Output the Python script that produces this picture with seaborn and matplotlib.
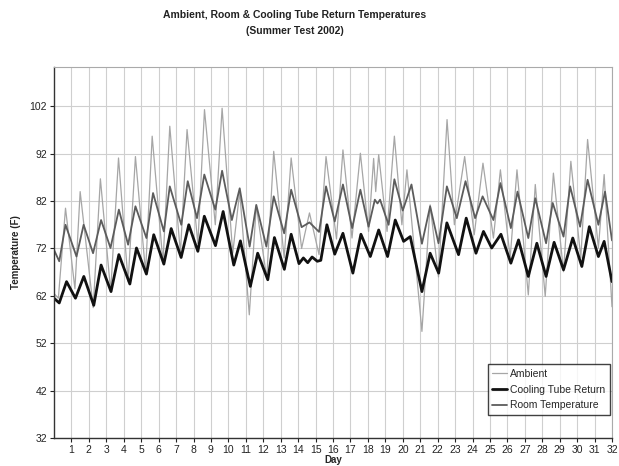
import matplotlib
matplotlib.use("Agg")
import matplotlib.pyplot as plt
import seaborn as sns
import pandas as pd

# ---- data (day, temperature F) ----
amb_day = [0.0, 0.25, 0.66, 1.2, 1.5, 2.25, 2.66, 3.25, 3.7, 4.25, 4.67, 5.25, 5.63, 6.25, 6.64,
           7.25, 7.63, 8.25, 8.63, 9.25, 9.64, 10.25, 10.65, 11.2, 11.6, 12.2, 12.6, 13.2, 13.6,
           14.2, 14.65, 15.2, 15.6, 16.2, 16.57, 17.09, 17.57, 18.04, 18.33, 18.45, 18.62, 19.1,
           19.52, 19.95, 20.24, 21.1, 21.57, 22.05, 22.54, 22.96, 23.55, 24.1, 24.6, 25.2, 25.6,
           26.16, 26.55, 27.2, 27.6, 28.17, 28.64, 29.22, 29.64, 30.21, 30.6, 31.22, 31.55, 32.0]
amb_temp = [62.5, 61.5, 80.5, 63.5, 84.0, 59.5, 86.7, 63.0, 91.1, 65.0, 91.4, 67.0, 95.7, 69.0, 97.8,
            71.0, 97.1, 73.0, 101.3, 77.0, 101.6, 71.0, 84.0, 58.0, 81.0, 65.7, 92.5, 70.0, 91.1,
            72.0, 79.5, 70.7, 91.4, 74.0, 92.8, 74.2, 92.1, 75.6, 91.0, 84.0, 91.8, 75.6,
            95.7, 77.0, 88.6, 54.5, 81.2, 66.0, 99.2, 77.0, 91.4, 74.9, 90.0, 74.2, 88.6,
            70.0, 88.6, 62.2, 85.5, 61.9, 87.9, 67.1, 90.4, 70.0, 95.0, 72.1, 87.6, 59.7]

cool_day = [0.0, 0.3, 0.72, 1.23, 1.71, 2.28, 2.7, 3.27, 3.72, 4.35, 4.73, 5.3, 5.72, 6.3, 6.72,
            7.29, 7.73, 8.25, 8.62, 9.26, 9.7, 10.31, 10.69, 11.26, 11.68, 12.26, 12.64, 13.21,
            13.6, 14.05, 14.3, 14.55, 14.8, 15.1, 15.3, 15.65, 16.1, 16.57, 17.14, 17.6, 18.14,
            18.62, 19.13, 19.57, 20.05, 20.43, 21.1, 21.57, 22.06, 22.53, 23.2, 23.64, 24.2, 24.63,
            25.1, 25.63, 26.2, 26.64, 27.2, 27.69, 28.22, 28.68, 29.22, 29.75, 30.27, 30.7, 31.22,
            31.55, 32.0]
cool_temp = [61.5, 60.5, 65.0, 61.5, 66.1, 60.0, 68.5, 62.9, 70.7, 64.5, 72.1, 66.6, 74.9, 68.7, 76.2,
             70.1, 77.0, 71.4, 78.8, 72.6, 79.8, 68.5, 73.6, 64.0, 71.0, 65.4, 74.3, 67.6,
             75.0, 68.8, 70.0, 69.0, 70.2, 69.3, 69.5, 77.0, 70.8, 75.2, 66.8, 75.0, 70.3,
             75.9, 70.3, 78.0, 73.5, 74.5, 62.9, 71.0, 66.8, 77.4, 70.7, 78.4, 71.0, 75.6,
             72.1, 75.0, 68.9, 73.8, 66.1, 73.1, 66.1, 73.3, 67.5, 74.2, 68.2, 76.6, 70.3,
             73.5, 65.0]

room_day = [0.0, 0.3, 0.66, 1.29, 1.7, 2.24, 2.7, 3.24, 3.72, 4.25, 4.67, 5.3, 5.68, 6.3, 6.64,
            7.3, 7.67, 8.2, 8.62, 9.25, 9.64, 10.2, 10.65, 11.22, 11.6, 12.18, 12.6, 13.2, 13.6,
            14.2, 14.65, 15.2, 15.6, 16.1, 16.57, 17.1, 17.57, 18.04, 18.4, 18.55, 18.7, 19.19,
            19.52, 20.0, 20.5, 21.1, 21.57, 22.05, 22.53, 23.1, 23.6, 24.15, 24.58, 25.2, 25.6,
            26.2, 26.58, 27.2, 27.6, 28.22, 28.6, 29.22, 29.6, 30.17, 30.6, 31.22, 31.6, 32.0]
room_temp = [71.7, 69.3, 77.0, 70.3, 77.0, 71.0, 78.0, 72.1, 80.2, 72.8, 80.9, 74.2, 83.7, 75.6, 85.1,
             77.0, 86.2, 78.4, 87.6, 80.2, 88.4, 78.0, 84.7, 72.4, 81.2, 72.4, 83.0, 75.2, 84.4,
             76.5, 77.5, 75.5, 85.1, 77.7, 85.5, 76.3, 84.4, 76.6, 82.3, 81.5, 82.3, 77.0,
             86.6, 80.0, 85.5, 73.0, 80.9, 73.1, 85.1, 78.4, 86.2, 78.4, 83.0, 78.0, 85.8,
             76.3, 84.0, 74.2, 82.6, 73.1, 81.6, 74.5, 85.1, 76.6, 86.5, 77.0, 84.0, 73.7]

y_ticks = [32, 42, 52, 62, 72, 82, 92, 102]
x_ticks = list(range(1, 33))

sns.set_style("whitegrid")
plt.rcParams["font.family"] = ["Liberation Sans", "DejaVu Sans"]

fig = plt.figure(figsize=(6.19, 4.66), dpi=100)
ax = fig.add_axes([54 / 619, 1 - 438 / 466, (612 - 54) / 619, (438 - 67) / 466])

sns.lineplot(x=amb_day, y=amb_temp, ax=ax, color="#a6a6a6", linewidth=0.9,
             label="Ambient", sort=False, solid_joinstyle="round")
sns.lineplot(x=cool_day, y=cool_temp, ax=ax, color="#111111", linewidth=2.0,
             label="Cooling Tube Return", sort=False, solid_joinstyle="round")
sns.lineplot(x=room_day, y=room_temp, ax=ax, color="#5c5c5c", linewidth=1.3,
             label="Room Temperature", sort=False, solid_joinstyle="round")

ax.set_xlim(0, 32)
ax.set_ylim(32, 110.3)
ax.set_yticks(y_ticks)
ax.set_xticks(x_ticks)
ax.set_xticklabels([str(t) for t in x_ticks], fontsize=7.5)
ax.set_yticklabels([str(t) for t in y_ticks], fontsize=7.5)
ax.grid(True, color="#cfcfcf", linewidth=0.8)
ax.tick_params(axis="both", length=3, width=0.8, colors="#222222", pad=2,
               direction="out", bottom=True, left=True)
for side in ["left", "bottom"]:
    ax.spines[side].set_color("#333333")
    ax.spines[side].set_linewidth(1.0)
for side in ["top", "right"]:
    ax.spines[side].set_color("#aaaaaa")
    ax.spines[side].set_linewidth(0.8)

ax.set_xlabel("Day", fontsize=7, fontweight="bold", labelpad=0)
ax.set_ylabel("Temperature (F)", fontsize=7, fontweight="bold", labelpad=6)

leg = ax.legend(loc="lower right", bbox_to_anchor=(0.996, 0.062), fontsize=7.5,
                frameon=True, fancybox=False, handlelength=1.4, handletextpad=0.3,
                borderpad=0.45, labelspacing=0.55, borderaxespad=0)
leg.get_frame().set_edgecolor("#111111")
leg.get_frame().set_linewidth(1.0)

fig.text(295 / 619, 1 - 15 / 466, "Ambient, Room & Cooling Tube Return Temperatures",
         ha="center", va="center", fontsize=7.5, fontweight="bold", color="#222222")
fig.text(295 / 619, 1 - 31 / 466, "(Summer Test 2002)",
         ha="center", va="center", fontsize=7.5, fontweight="bold", color="#222222")

fig.savefig("out.png", dpi=100)
